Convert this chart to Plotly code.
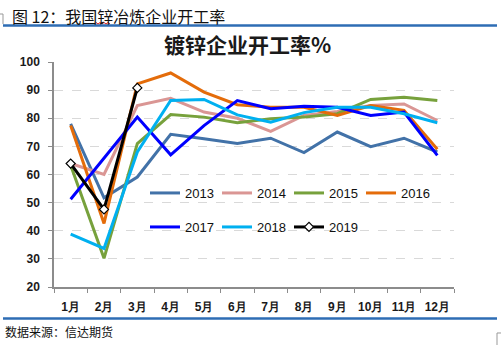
import plotly.graph_objects as go

# Monthly operating rate of galvanizing enterprises (%)
months = ["1月", "2月", "3月", "4月", "5月", "6月", "7月", "8月", "9月", "10月", "11月", "12月"]

y2013 = [78.0, 51.7, 59.1, 74.3, 72.7, 71.0, 72.9, 67.8, 75.1, 69.9, 72.9, 68.0]
y2014 = [63.9, 60.0, 84.5, 87.1, 82.2, 80.0, 75.3, 81.0, 82.4, 84.5, 85.1, 79.2]
y2015 = [63.3, 30.2, 71.0, 81.3, 80.4, 78.4, 79.8, 80.4, 81.6, 86.7, 87.5, 86.3]
y2016 = [77.4, 42.6, 92.2, 96.1, 89.3, 84.8, 83.9, 83.9, 81.0, 84.5, 82.8, 69.0]
y2017 = [51.2, 66.0, 80.4, 67.0, 77.4, 86.3, 83.4, 84.3, 83.9, 81.0, 82.2, 66.8]
y2018 = [38.8, 33.7, 68.0, 86.3, 86.7, 81.2, 78.6, 82.0, 83.9, 83.9, 81.6, 78.4]
y2019 = [63.9, 47.6, 90.8]

y_ticks = [20, 30, 40, 50, 60, 70, 80, 90, 100]

series = [
    ("2013", y2013, "#4272A8", "legend"),
    ("2014", y2014, "#DA9694", "legend"),
    ("2015", y2015, "#77A13C", "legend"),
    ("2016", y2016, "#E46C0A", "legend"),
    ("2017", y2017, "#0000FF", "legend2"),
    ("2018", y2018, "#00B0F0", "legend2"),
]

W, H = 501, 345
L, R, T, B = 54, 454, 62, 287  # plot area in pixels


def px(x):
    return (x - L) / (R - L)


def py(y):
    return (B - y) / (B - T)


fig = go.Figure()
for name, vals, color, lg in series:
    fig.add_trace(go.Scatter(
        x=months[:len(vals)], y=vals, name=name, mode="lines",
        line=dict(color=color, width=3), legend=lg,
    ))

fig.add_trace(go.Scatter(
    x=months[:len(y2019)], y=y2019, name="2019", mode="lines+markers",
    line=dict(color="#000000", width=3), legend="legend2",
    marker=dict(symbol="diamond", size=7, color="white",
                line=dict(color="black", width=1.2)),
))

tick_font = dict(family="Liberation Sans, Arial, sans-serif", size=12,
                 color="#1a1a1a", weight="bold")
legend_font = dict(family="Liberation Sans, Arial, sans-serif", size=13, color="#111")

legend_common = dict(orientation="h", xanchor="left", yanchor="middle",
                     entrywidth=27, entrywidthmode="pixels", font=legend_font,
                     bgcolor="rgba(0,0,0,0)", itemwidth=30, tracegroupgap=0)

fig.update_layout(
    width=W, height=H,
    margin=dict(l=L, r=W - R, t=T, b=H - B, pad=0),
    paper_bgcolor="white", plot_bgcolor="white",
    showlegend=True,
    legend=dict(x=px(145), y=py(193), **legend_common),
    legend2=dict(x=px(145), y=py(227), **legend_common),
    xaxis=dict(
        type="category", categoryorder="array", categoryarray=months,
        range=[-0.5, 11.5], tickson="boundaries", ticks="outside", ticklen=4,
        tickcolor="#8c8c8c", showline=True, linecolor="#8c8c8c", linewidth=1.5,
        showgrid=False, tickfont=tick_font, tickangle=0, ticklabelstandoff=8,
        fixedrange=True,
    ),
    yaxis=dict(
        range=[20, 100], tickvals=y_ticks, ticks="outside", ticklen=4,
        tickcolor="#8c8c8c", showline=True, linecolor="#8c8c8c", linewidth=1.5,
        showgrid=True, gridcolor="#d9d9d9", griddash="dash", gridwidth=1,
        zeroline=False, tickfont=tick_font, ticklabelstandoff=6, fixedrange=True,
    ),
)

# Chart title
fig.add_annotation(
    text="<b>镀锌企业开工率%</b>", xref="paper", yref="paper",
    x=px(247), y=py(44), xanchor="center", yanchor="middle", showarrow=False,
    font=dict(family="Noto Sans CJK SC", size=21, color="#1a1a1a"),
)

# Report header and footer
fig.add_annotation(
    text="图 12：我国锌冶炼企业开工率", xref="paper", yref="paper",
    x=px(10), y=py(16.5), xanchor="left", yanchor="middle", showarrow=False,
    font=dict(family="Noto Sans CJK SC", size=16, color="#111"),
)
fig.add_annotation(
    text="数据来源：信达期货", xref="paper", yref="paper",
    x=px(3), y=py(331), xanchor="left", yanchor="middle", showarrow=False,
    font=dict(family="Noto Sans CJK SC", size=12, color="#111"),
)

# Rules above and below the chart
for yy in (25.5, 318.5):
    fig.add_shape(type="line", xref="paper", yref="paper",
                  x0=px(3), x1=px(497), y0=py(yy), y1=py(yy),
                  line=dict(color="#2E6DB4", width=2.5))

# Wavy spell-check underline below one header glyph
wave = "M {:.4f},{:.4f}".format(px(96), py(22.5))
for i in range(1, 8):
    wave += " L {:.4f},{:.4f}".format(px(96 + i * 2), py(22.5 + (1.5 if i % 2 else 0)))
fig.add_shape(type="path", xref="paper", yref="paper", path=wave,
              line=dict(color="#e02020", width=1))

# Small frame corner marks
fig.add_shape(type="path", xref="paper", yref="paper",
              path="M {:.4f},{:.4f} L {:.4f},{:.4f} L {:.4f},{:.4f}".format(
                  px(0), py(14), px(3), py(14), px(3), py(24)),
              line=dict(color="#999", width=1))
fig.add_shape(type="path", xref="paper", yref="paper",
              path="M {:.4f},{:.4f} L {:.4f},{:.4f} L {:.4f},{:.4f}".format(
                  px(497), py(345), px(497), py(333), px(501), py(333)),
              line=dict(color="#999", width=1))

fig.write_html("out.html")
